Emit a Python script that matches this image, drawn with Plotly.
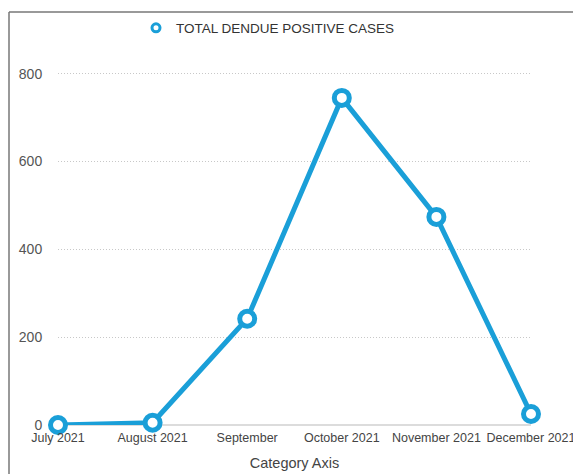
import plotly.graph_objects as go

categories = ["July 2021", "August 2021", "September", "October 2021", "November 2021", "December 2021"]
cases = [0, 5, 242, 745, 474, 25]
series_name = "TOTAL DENDUE POSITIVE CASES"
y_ticks = [0, 200, 400, 600, 800]

blue = "#1A9FD8"
# page has an 8px body margin; figure coordinates are page coordinates minus 8
W, H = 573, 466
L, R, T, B = 50, 50, 64, 49
pw, ph = W - L - R, H - T - B

def px(xp):
    return (xp - L) / pw

def py(yp):
    return (H - B - yp) / ph

fig = go.Figure()
fig.add_trace(go.Scatter(
    x=categories, y=cases, mode="lines+markers",
    line=dict(color=blue, width=5),
    marker=dict(symbol="circle", size=15, color="white", line=dict(color=blue, width=5)),
    cliponaxis=False, showlegend=False, name=series_name,
))
fig.add_trace(go.Scatter(
    x=[None], y=[None], mode="markers", name=series_name,
    marker=dict(symbol="circle", size=8, color="white", line=dict(color=blue, width=3)),
    showlegend=True,
))

fig.update_layout(
    width=W, height=H,
    margin=dict(l=L, r=R, t=T, b=B, autoexpand=False),
    paper_bgcolor="white", plot_bgcolor="white",
    font=dict(family="Liberation Sans, Arial, sans-serif", size=12, color="#444"),
    legend=dict(orientation="h", x=px(128), y=py(20), xanchor="left", yanchor="middle",
                font=dict(size=13.5, color="#333"), bgcolor="rgba(0,0,0,0)"),
    xaxis=dict(type="category", range=[0, len(categories) - 1], showgrid=False,
               showline=False, zeroline=False, ticks="", tickangle=0, automargin=False,
               ticklabelstandoff=3, tickfont=dict(size=12.5, color="#444"),
               title=dict(text="Category Axis", font=dict(size=14.5, color="#444"), standoff=14)),
    yaxis=dict(range=[0, 804], tickvals=y_ticks, showgrid=True, gridcolor="#c8c8c8",
               griddash="1px,2px", gridwidth=1, zeroline=True, zerolinecolor="#dcdcdc",
               zerolinewidth=1.5, showline=False, ticks="outside", ticklen=12, automargin=False,
               tickcolor="rgba(0,0,0,0)", tickfont=dict(size=14, color="#555")),
    shapes=[
        dict(type="line", xref="paper", yref="paper", x0=px(1), x1=px(1), y0=py(4), y1=py(H + 5),
             line=dict(color="#777", width=1.5)),
        dict(type="line", xref="paper", yref="paper", x0=px(1), x1=px(W + 5), y0=py(4), y1=py(4),
             line=dict(color="#777", width=1.5)),
    ],
)

fig.write_html("out.html")
